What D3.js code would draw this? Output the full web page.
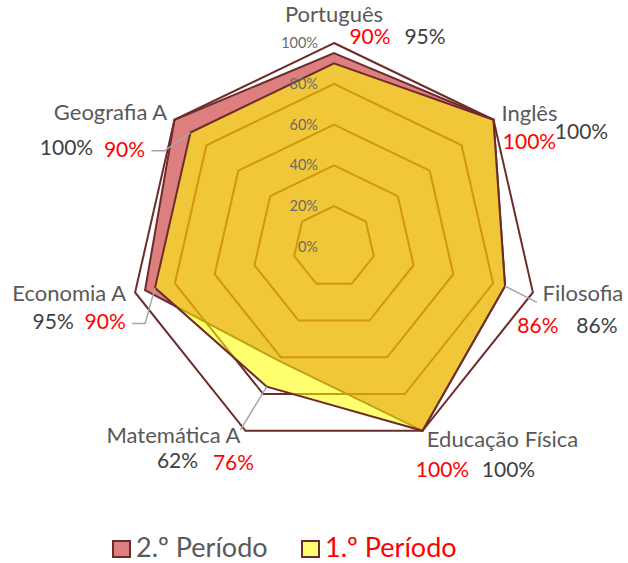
<!DOCTYPE html>
<html>
<head>
<meta charset="utf-8">
<script src="https://cdn.jsdelivr.net/npm/d3@7"></script>
<style>
  body { margin: 0; background: #fff; }
  svg { display: block; font-family: Lato, "Open Sans", sans-serif; }
</style>
</head>
<body>
<div id="chart"></div>
<script>
// Radar chart: classificações por disciplina, 1.º vs 2.º período

const categories = ["Português", "Inglês", "Filosofia", "Educação Física", "Matemática A", "Economia A", "Geografia A"];
const periodo2 = [95, 100, 86, 100, 62, 95, 100];
const periodo1 = [90, 100, 86, 100, 76, 90, 90];
const tickValues = [0, 20, 40, 60, 80, 100];
const seriesNames = ["2.º Período", "1.º Período"];

// label placement, offsets in px from each axis' 100% vertex (baseline of text)
const catOffsets = [[0, -21], [36, 1], [50, 9], [80, 16], [-72, 12], [-66, 9], [-64, 0]];
const p2Offsets = [[91, 1], [88, 19], [64, 41], [86, 46], [-68, 37], [-82, 37], [-108, 35]];
const p1Offsets = [[36, 1], [36, 29], [5, 41], [20, 46], [-12, 39], [-30, 37], [-50, 37]];
// leader lines: axis index, series index, bend points (offsets from 100% vertex)
const leaders = [
  { axis: 6, series: 1, pts: [[-23, 31], [-10, 31]] },
  { axis: 5, series: 1, pts: [[-3, 31], [10, 31]] },
  { axis: 2, series: 1, pts: [[4, 10]] },
  { axis: 4, series: 1, pts: [[-5, -1]] }
];

const W = 628, H = 563;
const cx = 334, cy = 247, R = 204;
const GRID = "#6e2b2b";
const LABEL = "#595959";

const svg = d3.select("#chart").append("svg")
  .attr("width", W).attr("height", H);
svg.append("rect").attr("width", W).attr("height", H).attr("fill", "#fff");

const g = svg.append("g").attr("transform", `translate(${cx},${cy})`);

const r = d3.scaleLinear().domain([0, 100]).range([0, R]);
const angle = d3.scaleLinear().domain([0, categories.length]).range([0, 2 * Math.PI]);

// point on axis i at value v, relative to centre
function pt(i, v) {
  const a = angle(i);
  return [Math.sin(a) * r(v), -Math.cos(a) * r(v)];
}

const radial = d3.lineRadial()
  .angle((d, i) => angle(i))
  .radius(d => r(d))
  .curve(d3.curveLinearClosed);

// grid rings
g.selectAll("path.ring")
  .data(tickValues.filter(t => t > 0))
  .join("path")
  .attr("class", "ring")
  .attr("d", t => radial(categories.map(() => t)))
  .attr("fill", "none")
  .attr("stroke", GRID)
  .attr("stroke-width", 2)
  .attr("stroke-linejoin", "miter");

// series: 2.º first, 1.º drawn on top
const series = [
  { name: seriesNames[0], values: periodo2, fill: "rgba(190,0,0,0.5)", swatch: "#de7f7f", text: "#595959", valText: "#404040", offsets: p2Offsets },
  { name: seriesNames[1], values: periodo1, fill: "rgba(255,255,0,0.56)", swatch: "#ffff70", text: "#ff0000", valText: "#ff0000", offsets: p1Offsets }
];

g.selectAll("path.area")
  .data(series)
  .join("path")
  .attr("class", "area")
  .attr("d", s => radial(s.values))
  .attr("fill", s => s.fill)
  .attr("stroke", GRID)
  .attr("stroke-width", 2)
  .attr("stroke-linejoin", "miter");

// axis tick labels
g.selectAll("text.tick")
  .data(tickValues)
  .join("text")
  .attr("class", "tick")
  .attr("x", -16)
  .attr("y", t => -r(t) + 5)
  .attr("text-anchor", "end")
  .attr("font-size", 14.5)
  .attr("fill", "#6a6a6a")
  .text(t => t + "%");

// leader lines
const leaderLine = d3.line();
g.selectAll("path.leader")
  .data(leaders)
  .join("path")
  .attr("class", "leader")
  .attr("d", l => {
    const o = pt(l.axis, 100);
    const pts = l.pts.map(p => [o[0] + p[0], o[1] + p[1]]);
    pts.push(pt(l.axis, series[l.series].values[l.axis]));
    return leaderLine(pts);
  })
  .attr("fill", "none")
  .attr("stroke", "#a6a6a6")
  .attr("stroke-width", 1.5);

// category labels
g.selectAll("text.cat")
  .data(categories)
  .join("text")
  .attr("class", "cat")
  .attr("x", (d, i) => pt(i, 100)[0] + catOffsets[i][0])
  .attr("y", (d, i) => pt(i, 100)[1] + catOffsets[i][1])
  .attr("text-anchor", "middle")
  .attr("font-size", 22)
  .attr("fill", LABEL)
  .text(d => d);

// value labels
series.forEach(s => {
  g.append("g")
    .selectAll("text")
    .data(s.values)
    .join("text")
    .attr("x", (d, i) => pt(i, 100)[0] + s.offsets[i][0])
    .attr("y", (d, i) => pt(i, 100)[1] + s.offsets[i][1])
    .attr("text-anchor", "middle")
    .attr("font-size", 21)
    .attr("fill", s.valText)
    .text(d => d + "%");
});

// legend
const legend = svg.append("g").attr("transform", "translate(113,541)");
const legendX = d3.scalePoint().domain(seriesNames).range([0, 189]);
const item = legend.selectAll("g")
  .data(series)
  .join("g")
  .attr("transform", s => `translate(${legendX(s.name)},0)`);
item.append("rect")
  .attr("width", 17).attr("height", 16)
  .attr("fill", s => s.swatch)
  .attr("stroke", GRID)
  .attr("stroke-width", 2);
item.append("text")
  .attr("x", 23)
  .attr("y", 16)
  .attr("font-size", 27)
  .attr("fill", s => s.text)
  .text(s => s.name);
</script>
</body>
</html>
